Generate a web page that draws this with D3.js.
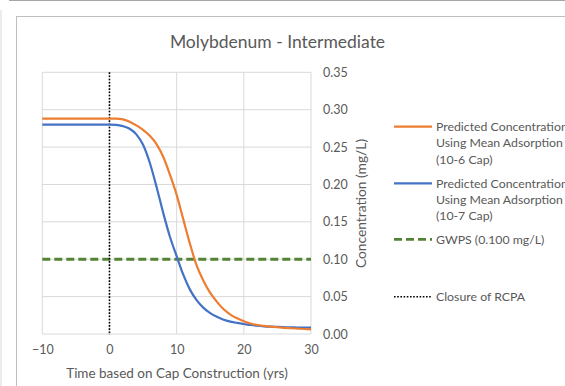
<!DOCTYPE html>
<html>
<head>
<meta charset="utf-8">
<script src="https://cdn.jsdelivr.net/npm/d3@7"></script>
<style>
  html, body { margin: 0; padding: 0; background: #fff; }
  svg { display: block; }
  text { font-family: Lato, "Open Sans", sans-serif; fill: #595959; }
</style>
</head>
<body>
<svg id="chart" width="565" height="386"></svg>
<script>
// ---- data ----
const years = [-10,-9,-8,-7,-6,-5,-4,-3,-2,-1,0,1,2,3,4,5,6,7,8,9,10,11,12,13,14,15,16,17,18,19,20,21,22,23,24,25,26,27,28,29,30];
const cap106 = [0.288,0.288,0.288,0.288,0.288,0.288,0.288,0.288,0.288,0.288,0.288,0.288,0.287,0.284,0.279,0.273,0.265,0.254,0.237,0.213,0.186,0.153,0.120,0.091,0.071,0.055,0.043,0.033,0.026,0.021,0.017,0.014,0.012,0.0108,0.0098,0.009,0.0083,0.0077,0.0072,0.0067,0.0063];
const cap107 = [0.280,0.280,0.280,0.280,0.280,0.280,0.280,0.280,0.280,0.280,0.280,0.2797,0.278,0.2745,0.267,0.253,0.229,0.197,0.162,0.130,0.104,0.079,0.059,0.045,0.035,0.028,0.023,0.019,0.0165,0.0148,0.0134,0.012,0.011,0.0103,0.0098,0.0094,0.0091,0.0089,0.0087,0.0085,0.0084];
const gwps = 0.100;
const closureYear = 0;
const xTicks = [-10, 0, 10, 20, 30];
const yTicks = [0.00, 0.05, 0.10, 0.15, 0.20, 0.25, 0.30, 0.35];
const legendLabels = [
  ["Predicted Concentration", "Using Mean Adsorption", "(10-6 Cap)"],
  ["Predicted Concentration", "Using Mean Adsorption", "(10-7 Cap)"],
  ["GWPS (0.100 mg/L)"],
  ["Closure of RCPA"]
];
const title = "Molybdenum - Intermediate";
const xTitle = "Time based on Cap Construction (yrs)";
const yTitle = "Concentration (mg/L)";

// ---- drawing ----
const svg = d3.select("#chart");
const W = 565, H = 386;
const FONT = "Lato, 'Open Sans', sans-serif";

// outer decorations
svg.append("line").attr("x1", 9).attr("x2", W).attr("y1", 0.5).attr("y2", 0.5)
  .attr("stroke", "#a6a6a6").attr("stroke-width", 1);
svg.append("line").attr("x1", 1).attr("x2", 1).attr("y1", 10).attr("y2", H)
  .attr("stroke", "#e6e6e6").attr("stroke-width", 1.5);
svg.append("rect").attr("x", 16.5).attr("y", 16.5).attr("width", W).attr("height", H)
  .attr("fill", "#fff").attr("stroke", "#bfbfbf").attr("stroke-width", 1);

const x = d3.scaleLinear().domain([-10, 30]).range([42.3, 311]);
const y = d3.scaleLinear().domain([0, 0.35]).range([334, 72.3]);

// gridlines
const grid = svg.append("g");
grid.selectAll(".hg").data(yTicks).join("line")
  .attr("x1", x(-10)).attr("x2", x(30))
  .attr("y1", d => y(d)).attr("y2", d => y(d))
  .attr("stroke", "#d9d9d9").attr("stroke-width", 1);
grid.selectAll(".vg").data(xTicks).join("line")
  .attr("x1", d => x(d)).attr("x2", d => x(d))
  .attr("y1", y(0)).attr("y2", y(0.35))
  .attr("stroke", "#d9d9d9").attr("stroke-width", 1);

// axes (labels only, via d3 axes)
const xAxis = svg.append("g").attr("transform", `translate(0,${y(0)})`)
  .call(d3.axisBottom(x).tickValues(xTicks).tickSize(0).tickPadding(11).tickFormat(d3.format("d")));
xAxis.select(".domain").remove();
xAxis.selectAll("text").style("font-size", "12.5px").attr("fill", "#595959").style("font-family", FONT);

const yAxis = svg.append("g").attr("transform", `translate(${x(30)},0)`)
  .call(d3.axisRight(y).tickValues(yTicks).tickSize(0).tickPadding(12).tickFormat(d3.format(".2f")));
yAxis.select(".domain").remove();
yAxis.selectAll("text").style("font-size", "12.5px").attr("fill", "#595959").style("font-family", FONT);

// series
const line = d3.line().x((d, i) => x(years[i])).y(d => y(d)).curve(d3.curveMonotoneX);
// GWPS
svg.append("line").attr("x1", x(-10)).attr("x2", x(30)).attr("y1", y(gwps)).attr("y2", y(gwps))
  .attr("stroke", "#548235").attr("stroke-width", 2.8).attr("stroke-dasharray", "8,4");
// closure
svg.append("line").attr("x1", x(closureYear)).attr("x2", x(closureYear)).attr("y1", y(0.35)).attr("y2", y(0) + 1)
  .attr("stroke", "#000").attr("stroke-width", 1.6).attr("stroke-dasharray", "1.6,1.6");
svg.append("path").datum(cap107).attr("d", line).attr("fill", "none")
  .attr("stroke", "#4472C4").attr("stroke-width", 2.2);
svg.append("path").datum(cap106).attr("d", line).attr("fill", "none")
  .attr("stroke", "#ED7D31").attr("stroke-width", 2.2);

// title
svg.append("text").attr("x", 277.5).attr("y", 47.5).attr("text-anchor", "middle")
  .style("font-size", "17.5px").text(title);
// axis titles
svg.append("text").attr("x", 177).attr("y", 377.5).attr("text-anchor", "middle")
  .style("font-size", "13.5px").text(xTitle);
svg.append("text").attr("transform", "translate(366,203.5) rotate(-90)").attr("text-anchor", "middle")
  .style("font-size", "13.8px").text(yTitle);

// legend
const legY = [126.7, 183.3, 239.3, 296.7];
const legStyles = [
  {stroke: "#ED7D31", w: 2.2, dash: null},
  {stroke: "#4472C4", w: 2.2, dash: null},
  {stroke: "#548235", w: 2.8, dash: "8,4"},
  {stroke: "#000", w: 1.6, dash: "1.6,1.6"}
];
legendLabels.forEach((lines, i) => {
  const st = legStyles[i];
  svg.append("line").attr("x1", 394).attr("x2", 432).attr("y1", legY[i]).attr("y2", legY[i])
    .attr("stroke", st.stroke).attr("stroke-width", st.w).attr("stroke-dasharray", st.dash);
  const t = svg.append("text").attr("x", 436).attr("y", legY[i] + 4.2).style("font-size", "12.3px");
  lines.forEach((s, j) => {
    t.append("tspan").attr("x", 436).attr("dy", j === 0 ? 0 : 16.4).text(s);
  });
});
</script>
</body>
</html>
